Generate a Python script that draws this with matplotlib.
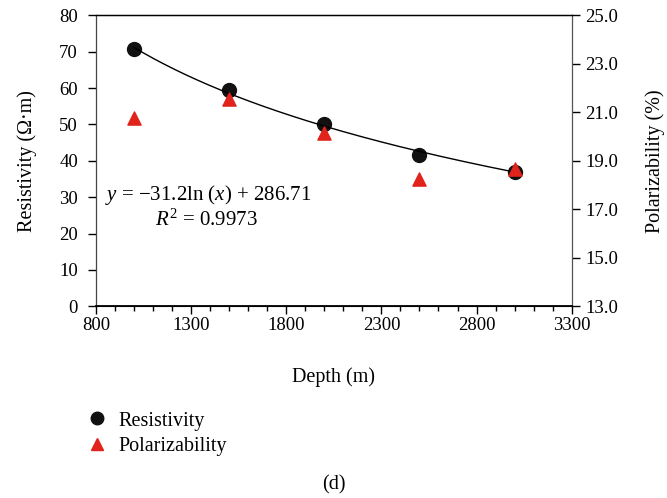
import numpy as np
import matplotlib
matplotlib.use("Agg")
import matplotlib.pyplot as plt
from matplotlib.lines import Line2D
from matplotlib.ticker import FixedLocator, FormatStrFormatter

plt.rcParams['font.family'] = ['Liberation Serif', 'DejaVu Serif']
plt.rcParams['mathtext.fontset'] = 'custom'
plt.rcParams['mathtext.rm'] = 'Liberation Serif'
plt.rcParams['mathtext.it'] = 'Liberation Serif:italic'

depth = [1000, 1500, 2000, 2500, 3000]
resistivity = [70.7, 59.4, 50.1, 41.7, 36.9]
polarizability = [20.76, 21.57, 20.16, 18.25, 18.65]
fit_a, fit_b = -31.2, 286.71
x_ticks = [800, 1300, 1800, 2300, 2800, 3300]
left_ticks = [0, 10, 20, 30, 40, 50, 60, 70, 80]
right_ticks = [13.0, 15.0, 17.0, 19.0, 21.0, 23.0, 25.0]

fig = plt.figure(figsize=(6.67, 4.98), dpi=100)
ax = fig.add_axes([0.1439, 0.385, 0.8571 - 0.1439, 0.969 - 0.385])
ax2 = ax.twinx()

xs = np.linspace(min(depth), max(depth), 200)
ax.scatter(depth, resistivity, s=100, color='#111111', zorder=3)
ax.plot(xs, fit_a * np.log(xs) + fit_b, color='black', lw=1.0, zorder=4)
ax2.scatter(depth, polarizability, marker='^', s=90, color='#e0231b', zorder=3)

ax.set_xlim(800, 3300)
ax.set_ylim(0, 80)
ax2.set_ylim(13, 25)
ax.xaxis.set_major_locator(FixedLocator(x_ticks))
ax.xaxis.set_minor_locator(FixedLocator(np.arange(800, 3301, 100)))
ax.yaxis.set_major_locator(FixedLocator(left_ticks))
ax2.yaxis.set_major_locator(FixedLocator(right_ticks))
ax2.yaxis.set_major_formatter(FormatStrFormatter('%.1f'))

for a in (ax, ax2):
    a.tick_params(axis='both', labelsize=13.5, direction='out', length=5.5, width=1, colors='black')
    a.tick_params(which='minor', length=3.5, width=1)
ax.tick_params(axis='x', pad=2.5)
ax.tick_params(axis='y', length=6, pad=7)
ax2.tick_params(axis='y', length=6, pad=4)
ax2.spines['left'].set_color('#444444')
ax2.spines['right'].set_color('#555555')
ax2.spines['bottom'].set_linewidth(1.3)
ax2.spines['top'].set_linewidth(1.0)

ax.set_xlabel('Depth (m)', fontsize=14.5, labelpad=24)
ax.set_ylabel('Resistivity (Ω·m)', fontsize=14.5, labelpad=16)
ax2.set_ylabel('Polarizability (%)', fontsize=14.5, labelpad=19)

ax.text(847, 30.7, r'$y$ = −31.2ln ($x$) + 286.71', fontsize=15, ha='left', va='center')
ax.text(1383, 23.6, r'$R^2$ = 0.9973', fontsize=15, ha='center', va='center')

handles = [
    Line2D([], [], marker='o', ls='none', color='#111111', markersize=9),
    Line2D([], [], marker='^', ls='none', color='#e0231b', markersize=8),
]
fig.legend(handles, ['Resistivity', 'Polarizability'], loc='upper left',
           bbox_to_anchor=(0.118, 0.19), frameon=False, fontsize=14.5,
           handletextpad=0.55, labelspacing=0.3, handlelength=1.0, borderaxespad=0)

fig.text(0.5, 0.026, '(d)', ha='center', va='center', fontsize=14.5)

fig.savefig('out.png', dpi=100)
